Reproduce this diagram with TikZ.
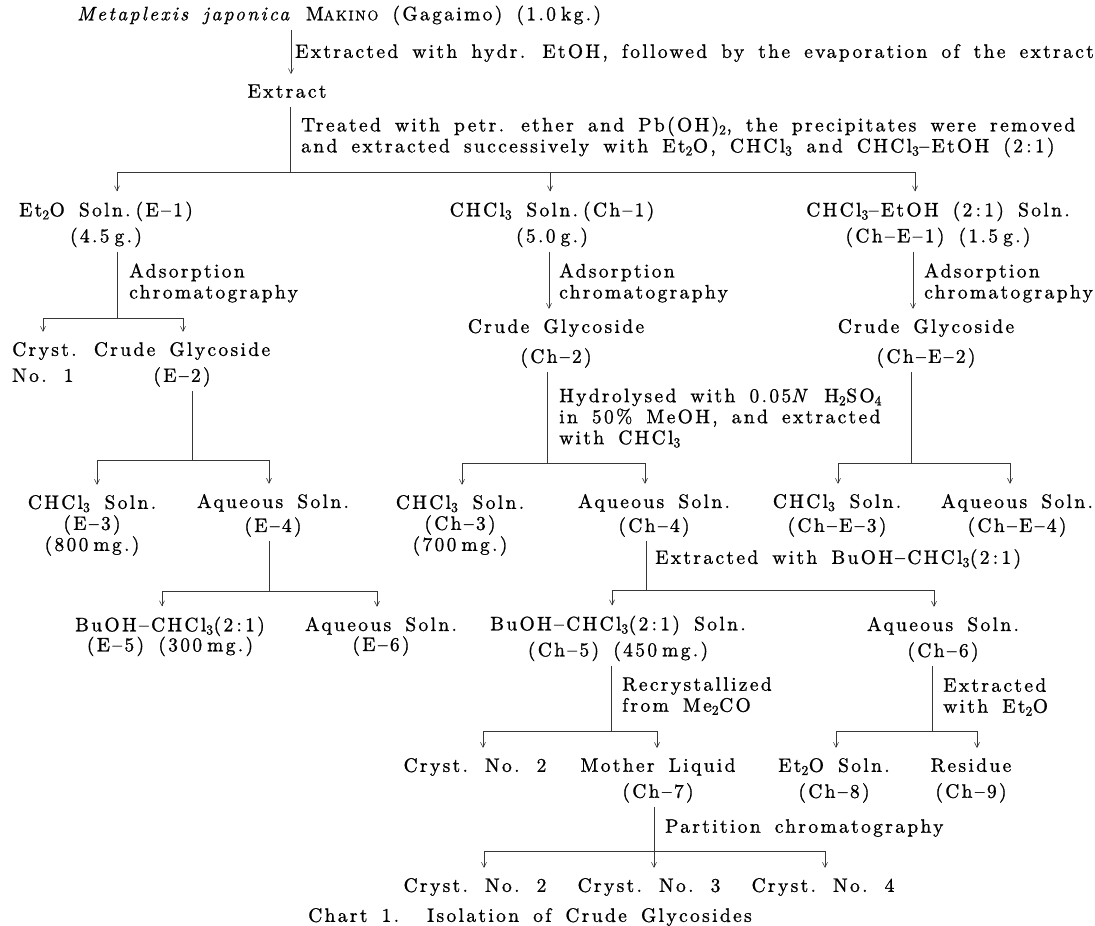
\documentclass[tikz,border=0pt]{standalone}
\usepackage{fontspec}
\usetikzlibrary{arrows.meta}
\newfontfamily\chartfam{lmroman10-regular.otf}[ItalicFont=lmroman10-italic.otf,Ligatures=TeX,LetterSpace=12,WordSpace=1.6,FakeBold=1]
\definecolor{InkGray}{RGB}{55,55,55}
\newcommand\stagefont{\chartfam\fontsize{19.5}{26}\selectfont}
\newcommand\notefont{\chartfam\fontsize{19.5}{21}\selectfont}
\newcommand\scaps[1]{{\fontsize{14}{14}\selectfont #1}}
\newcommand\tsp{\hspace{5pt}}
\tikzset{
  stagebox/.style={inner sep=0pt,align=center,text depth=4pt,font=\stagefont},
  sidenote/.style={inner sep=0pt,align=left,anchor=west,font=\notefont},
  barline/.style={line width=0.6pt,draw=InkGray},
  stemline/.style={line width=0.6pt,draw=InkGray,shorten <=5pt},
  flowarrow/.style={-{Straight Barb[length=5pt,width=5pt]},line width=0.6pt,draw=InkGray,shorten >=10pt},
  flowstem/.style={flowarrow,shorten <=5pt}
}

\begin{document}
\begin{tikzpicture}[x=1pt,y=-1pt]
\useasboundingbox (0,0) rectangle (1095,926);

% plant material and first extraction
\node[stagebox,anchor=west] (src) at (77,15) {\textit{Metaplexis japonica} M\scaps{AKINO} (Gagaimo) (1.0\tsp kg.)};
\node[stagebox] (extract) at (287,93) {Extract};
\node[sidenote] (n1) at (295,53) {Extracted with hydr. EtOH, followed by the evaporation of the extract};
\draw[flowstem] (src.south -| 291,0) -- (extract.north -| 291,0);

\node[sidenote] (n2) at (301,137) {Treated with petr. ether and Pb(OH)\textsubscript{2}, the precipitates were removed\\and extracted successively with Et\textsubscript{2}O, CHCl\textsubscript{3} and CHCl\textsubscript{3}--EtOH (2\,:\,1)};

% three solvent fractions
\node[stagebox] (e1) at (106,224) {Et\textsubscript{2}O Soln.\tsp(E--1)\\(4.5\tsp g.)};
\node[stagebox] (ch1) at (552,224) {CHCl\textsubscript{3} Soln.\tsp(Ch--1)\\(5.0\tsp g.)};
\node[stagebox] (che1) at (938,224) {CHCl\textsubscript{3}--EtOH (2\,:\,1) Soln.\\(Ch--E--1) (1.5\tsp g.)};

\coordinate (j1) at (290,172);
\coordinate (j1a) at (117,172);
\coordinate (j1b) at (550,172);
\coordinate (j1c) at (915,172);
\draw[stemline] (extract.south -| j1) -- (j1);
\draw[barline] (j1a) -- (j1c);
\draw[flowarrow] (j1a) -- (j1a |- e1.north);
\draw[flowarrow] (j1b) -- (j1b |- ch1.north);
\draw[flowarrow] (j1c) -- (j1c |- che1.north);

% adsorption chromatography
\node[sidenote] (na1) at (129,283) {Adsorption\\chromatography};
\node[sidenote] (na2) at (559,283) {Adsorption\\chromatography};
\node[sidenote] (na3) at (924,283) {Adsorption\\chromatography};

\node[stagebox,align=left,anchor=west] (cryst1) at (12,364) {Cryst.\\No. 1};
\node[stagebox] (e2) at (182,364) {Crude Glycoside\\(E--2)};
\node[stagebox] (ch2) at (556,343) {Crude Glycoside\\[4pt](Ch--2)};
\node[stagebox] (che2) at (926,343) {Crude Glycoside\\[4pt](Ch--E--2)};

\coordinate (j2) at (117,318);
\coordinate (j2a) at (43,318);
\coordinate (j2b) at (183,318);
\draw[stemline] (e1.south -| j2) -- (j2);
\draw[barline] (j2a) -- (j2b);
\draw[flowarrow] (j2a) -- (j2a |- cryst1.north);
\draw[flowarrow] (j2b) -- (j2b |- e2.north);
\draw[flowstem] (ch1.south -| 549,0) -- (ch2.north -| 549,0);
\draw[flowstem] (che1.south -| 913,0) -- (che2.north -| 913,0);

% hydrolysis and partition
\node[sidenote] (nh) at (559,418) {Hydrolysed with 0.05\textit{N} H\textsubscript{2}SO\textsubscript{4}\\in 50\% MeOH, and extracted\\with CHCl\textsubscript{3}};

\node[stagebox] (e3) at (92,525) {CHCl\textsubscript{3} Soln.\\[-5pt](E--3)\\[-5pt](800\tsp mg.)};
\node[stagebox] (e4) at (273,515) {Aqueous Soln.\\[-2pt](E--4)};
\node[stagebox] (ch3) at (460,525) {CHCl\textsubscript{3} Soln.\\[-5pt](Ch--3)\\[-5pt](700\tsp mg.)};
\node[stagebox] (ch4) at (654,515) {Aqueous Soln.\\[-2pt](Ch--4)};
\node[stagebox] (che3) at (837,515) {CHCl\textsubscript{3} Soln.\\[-2pt](Ch--E--3)};
\node[stagebox] (che4) at (1017,515) {Aqueous Soln.\\[-2pt](Ch--E--4)};

\coordinate (j3) at (192,460);
\coordinate (j3a) at (97,460);
\coordinate (j3b) at (269,460);
\draw[stemline] (e2.south -| j3) -- (j3);
\draw[barline] (j3a) -- (j3b);
\draw[flowarrow] (j3a) -- (j3a |- e3.north);
\draw[flowarrow] (j3b) -- (j3b |- e4.north);

\coordinate (j4) at (547,463);
\coordinate (j4a) at (462,463);
\coordinate (j4b) at (645,463);
\draw[stemline] (ch2.south -| j4) -- (j4);
\draw[barline] (j4a) -- (j4b);
\draw[flowarrow] (j4a) -- (j4a |- ch3.north);
\draw[flowarrow] (j4b) -- (j4b |- ch4.north);

\coordinate (j5) at (911,463);
\coordinate (j5a) at (838,463);
\coordinate (j5b) at (1010,463);
\draw[stemline] (che2.south -| j5) -- (j5);
\draw[barline] (j5a) -- (j5b);
\draw[flowarrow] (j5a) -- (j5a |- che3.north);
\draw[flowarrow] (j5b) -- (j5b |- che4.north);

% butanol extraction
\node[sidenote] (nb) at (655,559) {Extracted with BuOH--CHCl\textsubscript{3}(2\,:\,1)};

\node[stagebox] (e5) at (170,636) {BuOH--CHCl\textsubscript{3}(2\,:\,1)\\[-6pt](E--5) (300\tsp mg.)};
\node[stagebox] (e6) at (381,636) {Aqueous Soln.\\[-6pt](E--6)};
\node[stagebox] (ch5) at (618,638) {BuOH--CHCl\textsubscript{3}(2\,:\,1) Soln.\\(Ch--5) (450\tsp mg.)};
\node[stagebox] (ch6) at (943,639) {Aqueous Soln.\\(Ch--6)};

\coordinate (j6) at (269,591);
\coordinate (j6a) at (162,591);
\coordinate (j6b) at (377,591);
\draw[stemline] (e4.south -| j6) -- (j6);
\draw[barline] (j6a) -- (j6b);
\draw[flowarrow] (j6a) -- (j6a |- e5.north);
\draw[flowarrow] (j6b) -- (j6b |- e6.north);

\coordinate (j7) at (646,590);
\coordinate (j7a) at (612,590);
\coordinate (j7b) at (934,590);
\draw[stemline] (ch4.south -| j7) -- (j7);
\draw[barline] (j7a) -- (j7b);
\draw[flowarrow] (j7a) -- (j7a |- ch5.north);
\draw[flowarrow] (j7b) -- (j7b |- ch6.north);

% crystallization and ether extraction
\node[sidenote] (nr) at (622,696) {Recrystallized\\from Me\textsubscript{2}CO};
\node[sidenote] (nx) at (943,697) {Extracted\\with Et\textsubscript{2}O};

\node[stagebox] (cryst2a) at (475,767) {Cryst. No. 2};
\node[stagebox] (ch7) at (658,780) {Mother Liquid\\(Ch--7)};
\node[stagebox] (ch8) at (834,780) {Et\textsubscript{2}O Soln.\\(Ch--8)};
\node[stagebox] (ch9) at (971,780) {Residue\\(Ch--9)};

\coordinate (j8) at (611,731);
\coordinate (j8a) at (483,731);
\coordinate (j8b) at (657,731);
\draw[stemline] (ch5.south -| j8) -- (j8);
\draw[barline] (j8a) -- (j8b);
\draw[flowarrow] (j8a) -- (j8a |- cryst2a.north);
\draw[flowarrow] (j8b) -- (j8b |- ch7.north);

\coordinate (j9) at (932,731);
\coordinate (j9a) at (836,731);
\coordinate (j9b) at (977,731);
\draw[stemline] (ch6.south -| j9) -- (j9);
\draw[barline] (j9a) -- (j9b);
\draw[flowarrow] (j9a) -- (j9a |- ch8.north);
\draw[flowarrow] (j9b) -- (j9b |- ch9.north);

% partition chromatography of the mother liquid
\node[sidenote] (np) at (665,828) {Partition chromatography};

\node[stagebox] (cryst2b) at (475,887) {Cryst. No. 2};
\node[stagebox] (cryst3) at (649,887) {Cryst. No. 3};
\node[stagebox] (cryst4) at (823,887) {Cryst. No. 4};

\coordinate (j10) at (654,851);
\coordinate (j10a) at (484,851);
\coordinate (j10b) at (654,851);
\coordinate (j10c) at (825,851);
\draw[stemline] (ch7.south -| j10) -- (j10);
\draw[barline] (j10a) -- (j10c);
\draw[flowarrow] (j10a) -- (j10a |- cryst2b.north);
\draw[flowarrow] (j10b) -- (j10b |- cryst3.north);
\draw[flowarrow] (j10c) -- (j10c |- cryst4.north);

\node[stagebox] (caption) at (530,917) {Chart 1.\hspace{28pt}Isolation of Crude Glycosides};
\end{tikzpicture}
\end{document}
